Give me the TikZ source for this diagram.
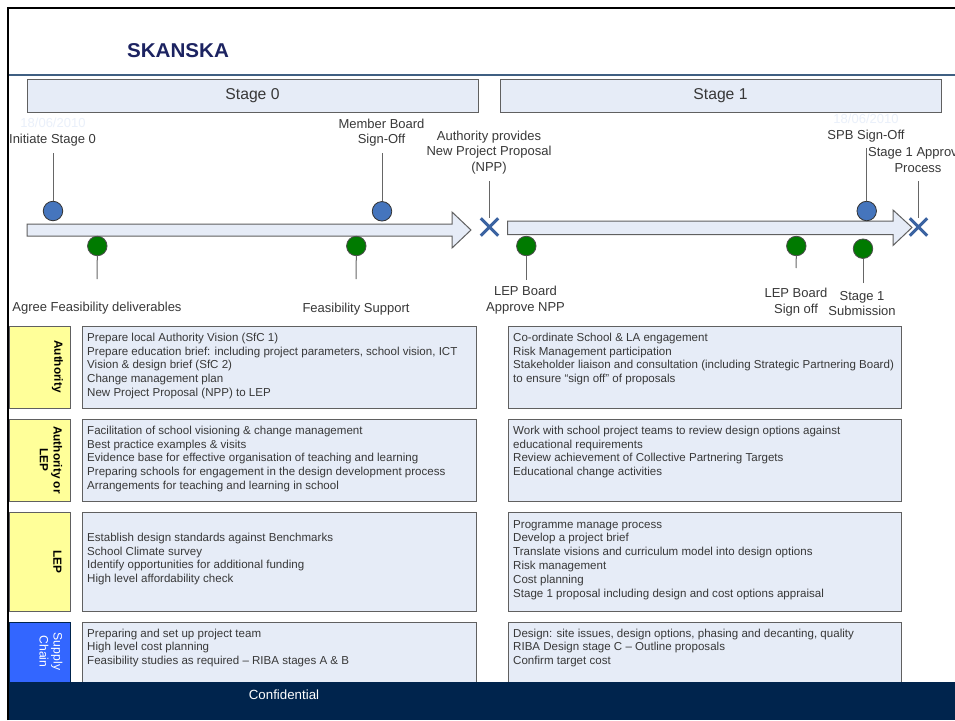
\documentclass[tikz,border=0pt]{standalone}
\usepackage{fontspec}
\setmainfont{Liberation Sans}
\definecolor{boxfill}{HTML}{E6ECF7}
\definecolor{edge}{HTML}{606060}
\definecolor{ink}{HTML}{383838}
\definecolor{navy}{HTML}{00244D}
\definecolor{rule}{HTML}{3F5F82}
\definecolor{mblue}{HTML}{4575BD}
\definecolor{mgreen}{HTML}{007A00}
\definecolor{rowyellow}{HTML}{FFFF99}
\definecolor{rowblue}{HTML}{3366FF}
\definecolor{logoblue}{HTML}{1C2361}
\definecolor{faint}{HTML}{EAF0FA}
\tikzset{
  x=1pt,y=-1pt,
  stagebox/.style={draw=edge,fill=boxfill,line width=1pt,inner sep=0pt,minimum height=33pt,text=ink,font=\fontsize{15.7}{17}\selectfont},
  lab/.style={text=ink,font=\fontsize{13}{15.6}\selectfont,align=center,inner sep=0pt},
  blue dot/.style={circle,draw=black!80,fill=mblue,line width=0.8pt,minimum size=19.5pt,inner sep=0pt},
  green dot/.style={circle,draw=black!70,fill=mgreen,line width=0.8pt,minimum size=19.5pt,inner sep=0pt},
  stem/.style={draw=black!60,line width=1pt},
  cross/.style={draw=mblue!85!black,line width=3pt},
  xmark/.style={inner sep=0pt,minimum size=17pt},
  timeline/.style={draw=edge,fill=boxfill,line width=1pt,line join=miter},
  contentbox/.style={draw=edge,fill=boxfill,line width=1pt,inner sep=0pt,minimum width=393.5pt},
  contenttext/.style={anchor=west,inner sep=0pt,align=left,text=ink,font=\fontsize{11.55}{13.9}\selectfont},
  rowy/.style={draw=edge,fill=rowyellow,line width=0.9pt,inner sep=0pt,minimum width=61pt},
  rowb/.style={draw=navy,fill=rowblue,line width=0.9pt,inner sep=0pt,minimum width=61pt},
  rowtext/.style={rotate=-90,inner sep=0pt,align=center},
  rowbold/.style={rowtext,font=\bfseries\fontsize{11.8}{13.9}\selectfont},
  datefaint/.style={text=faint,inner sep=0pt,font=\fontsize{13}{14}\selectfont},
}
\begin{document}
\begin{tikzpicture}
\useasboundingbox (0,0) rectangle (955,720);
\clip (0,0) rectangle (955,720);
\fill[white] (0,0) rectangle (955,720);
% frame and header
\draw[black,line width=2.4pt] (8.2,720) -- (8.2,8.2) -- (955,8.2);
\draw[rule,line width=1.8pt] (9,75) -- (955,75);
\node[inner sep=0pt,text=logoblue,font=\bfseries\fontsize{20}{20}\selectfont,xscale=1.03] (logo) at (178,50.5) {SKANSKA};
% stage headers
\node[stagebox,minimum width=451pt] (s0) at (252.5,95.5) {\raisebox{-0.8pt}{Stage 0}};
\node[stagebox,minimum width=441pt] (s1) at (720.5,95.5) {\raisebox{-0.8pt}{Stage 1}};
% faint dates
\node[datefaint] (d0) at (53,122.5) {18/06/2010};
\node[datefaint] (d1) at (866,119) {18/06/2010};
% timelines
\draw[timeline] (27,224) -- (452,224) -- (452,212) -- (471,230) -- (452,248) -- (452,236) -- (27,236) -- cycle;
\draw[timeline] (507.5,221) -- (893,221) -- (893,210) -- (912,227.5) -- (893,245.5) -- (893,234.5) -- (507.5,234.5) -- cycle;
% free ends of stems
\coordinate (e1) at (53,153);
\coordinate (e2) at (382,153);
\coordinate (e3) at (866.7,148);
\coordinate (e4) at (97,279);
\coordinate (e5) at (356,279);
\coordinate (e6) at (526.3,279.5);
\coordinate (e7) at (796,268);
\coordinate (e8) at (863,283);
\coordinate (e9) at (489.5,181);
\coordinate (e10) at (918.5,181);
% markers
\node[blue dot] (b1) at (53,211) {};
\node[blue dot] (b2) at (382,211.3) {};
\node[blue dot] (b3) at (866.7,211) {};
\node[green dot] (g1) at (97.3,246) {};
\node[green dot] (g2) at (356.3,246) {};
\node[green dot] (g3) at (526.3,246) {};
\node[green dot] (g4) at (796.3,246) {};
\node[green dot] (g5) at (863,248.7) {};
\node[xmark] (x1) at (489.5,227) {};
\node[xmark] (x2) at (918.5,227) {};
\draw[cross] (x1.north west) -- (x1.south east) (x1.north east) -- (x1.south west);
\draw[cross] (x2.north west) -- (x2.south east) (x2.north east) -- (x2.south west);
% stems
\draw[stem] (e1) -- (b1.north);
\draw[stem] (e2) -- (b2.north);
\draw[stem] (e3) -- (b3.north);
\draw[stem] (e4) -- (g1.south);
\draw[stem] (e5) -- (g2.south);
\draw[stem] (e6) -- (g3.south);
\draw[stem] (e7) -- (g4.south);
\draw[stem] (e8) -- (g5.south);
\draw[stem] (e9) -- (x1.north);
\draw[stem] (e10) -- (x2.north);
% milestone labels
\node[lab] (l1) at (52.5,140.5) {Initiate Stage 0};
\node[lab] (l2) at (381.5,132.5) {Member Board\\Sign-Off};
\node[lab] (l3) at (489,152.5) {Authority provides\\New Project Proposal\\(NPP)};
\node[lab] (l4) at (866,136.5) {SPB Sign-Off};
\node[lab] (l5) at (918,160) {Stage 1 Approval\\Process};
\node[lab] (l6) at (97,308.5) {Agree Feasibility deliverables};
\node[lab] (l7) at (356,309) {Feasibility Support};
\node[lab] (l8) at (525.5,300) {LEP Board\\Approve NPP};
\node[lab] (l9) at (796,302) {LEP Board\\Sign off};
\node[lab] (l10) at (862,303.5) {Stage 1\\Submission};
% role column
\node[rowy,minimum height=82pt] (r1) at (39.5,367) {};
\node[rowy,minimum height=82pt] (r2) at (39.5,460) {};
\node[rowy,minimum height=99pt] (r3) at (39.5,561.5) {};
\node[rowb,minimum height=60pt] (r4) at (39.5,652) {};
\node[rowbold] (t1) at (57.5,366.5) {Authority};
\node[rowbold] (t2) at (51,460) {Authority or\\LEP};
\node[rowbold] (t3) at (57.5,562) {LEP};
\node[rowtext,text=white,font=\fontsize{12.2}{13.9}\selectfont] (t4) at (51,651.5) {Supply\\Chain};
% content boxes
\node[contentbox,minimum height=82pt] (a1) at (279.3,367) {};
\node[contentbox,minimum height=82pt] (a2) at (279.3,460) {};
\node[contentbox,minimum height=99pt] (a3) at (279.3,561.5) {};
\node[contentbox,minimum height=60pt] (a4) at (279.3,652) {};
\node[contentbox,minimum height=82pt] (c1) at (704.8,367) {};
\node[contentbox,minimum height=82pt] (c2) at (704.8,460) {};
\node[contentbox,minimum height=99pt] (c3) at (704.8,561.5) {};
\node[contentbox,minimum height=60pt] (c4) at (704.8,652) {};
\node[contenttext] (ta1) at (87,366) {Prepare local Authority Vision (SfC 1)\\Prepare education brief: including project parameters, school vision, ICT\\Vision \& design brief (SfC 2)\\Change management plan\\New Project Proposal (NPP) to LEP};
\node[contenttext] (ta2) at (87,459) {Facilitation of school visioning \& change management\\Best practice examples \& visits\\Evidence base for effective organisation of teaching and learning\\Preparing schools for engagement in the design development process\\Arrangements for teaching and learning in school};
\node[contenttext] (ta3) at (87,559) {Establish design standards against Benchmarks\\School Climate survey\\Identify opportunities for additional funding\\High level affordability check};
\node[contenttext] (ta4) at (87,648) {Preparing and set up project team\\High level cost planning\\Feasibility studies as required – RIBA stages A \& B};
\node[contenttext] (tc1) at (513,359) {Co-ordinate School \& LA engagement\\Risk Management participation\\Stakeholder liaison and consultation (including Strategic Partnering Board)\\to ensure “sign off” of proposals};
\node[contenttext] (tc2) at (513,452) {Work with school project teams to review design options against\\educational requirements\\Review achievement of Collective Partnering Targets\\Educational change activities};
\node[contenttext] (tc3) at (513,560) {Programme manage process\\Develop a project brief\\Translate visions and curriculum model into design options\\Risk management\\Cost planning\\Stage 1 proposal including design and cost options appraisal};
\node[contenttext] (tc4) at (513,648) {Design: site issues, design options, phasing and decanting, quality\\RIBA Design stage C – Outline proposals\\Confirm target cost};
% footer
\fill[navy] (9.4,682) rectangle (955,720);
\node[inner sep=0pt,text=white,font=\fontsize{13.3}{15}\selectfont] (conf) at (284,694.5) {Confidential};
\end{tikzpicture}
\end{document}
